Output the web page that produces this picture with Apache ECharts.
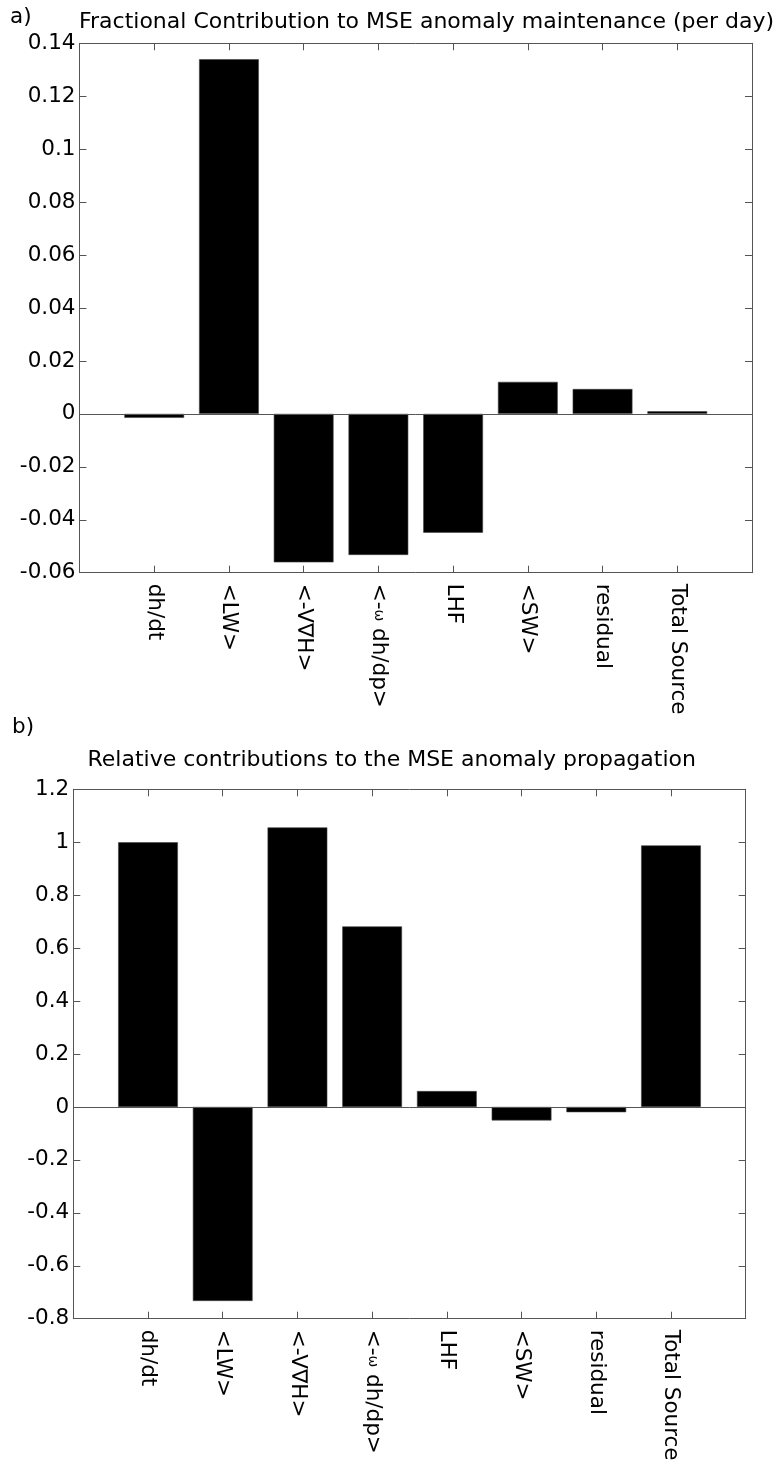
<!DOCTYPE html>
<html>
<head>
<meta charset="utf-8">
<script src="https://cdn.jsdelivr.net/npm/echarts@6/dist/echarts.min.js"></script>
<style>
  html, body { margin: 0; padding: 0; background: #fff; }
  #chart { width: 782px; height: 1462px; }
</style>
</head>
<body>
<div id="chart"></div>
<script>
// Budget terms shown along the x axis of both panels
const categories = ['dh/dt', '<LW>', '<-V\u2207H>', '<-\u03c9 dh/dp>', 'LHF', '<SW>', 'residual', 'Total Source'];

// a) fractional contribution to MSE anomaly maintenance (per day)
const maintenance = [-0.0015, 0.134, -0.0561, -0.0533, -0.0449, 0.0121, 0.0094, 0.001];
// b) relative contribution to MSE anomaly propagation
const propagation = [1.0, -0.733, 1.056, 0.682, 0.06, -0.051, -0.02, 0.988];

// y-axis ranges: [min, max, step]
const maintenanceRange = [-0.06, 0.14, 0.02];
const propagationRange = [-0.8, 1.2, 0.2];

// bars sit at x = 1..8 on a 0..9 axis
const tickPositions = categories.map((_, i) => i + 1);

const FONT = 'DejaVu Sans';
const AXIS = '#555';
const LABEL_SIZE = 21.5;
const TITLE_SIZE = 22;

const grids = [
  { left: 79.5, top: 43.3, width: 672.5, height: 529.4 },
  { left: 73.3, top: 789.3, width: 672.4, height: 529.4 }
];

function xLabel(v) {
  const name = categories[v - 1];
  if (name === undefined) return '';
  if (name.indexOf('\u03c9') >= 0) {
    const parts = name.split('\u03c9');
    return '{t|' + parts[0] + '}{w|\u03c9}{t|' + parts[1] + '}';
  }
  return '{t|' + name + '}';
}

const xAxes = [], yAxes = [], series = [];
[maintenance, propagation].forEach((values, g) => {
  const range = g === 0 ? maintenanceRange : propagationRange;
  const common = {
    gridIndex: g, type: 'value', min: 0, max: 9, interval: 1,
    axisLine: { show: true, onZero: false, lineStyle: { color: AXIS, width: 1 } },
    axisTick: { show: true, inside: true, length: 7, customValues: tickPositions, lineStyle: { color: AXIS } },
    splitLine: { show: false }
  };
  xAxes.push(Object.assign({}, common, {
    position: 'bottom',
    axisLabel: {
      show: true, rotate: -90, margin: 11, customValues: tickPositions,
      formatter: xLabel,
      rich: {
        t: { fontFamily: FONT, fontSize: LABEL_SIZE, color: '#000' },
        w: { fontFamily: FONT, fontSize: 14, color: '#000' }
      }
    }
  }));
  xAxes.push(Object.assign({}, common, { position: 'top', axisLabel: { show: false } }));

  const yCommon = {
    gridIndex: g, type: 'value', min: range[0], max: range[1], interval: range[2],
    axisLine: { show: true, onZero: false, lineStyle: { color: AXIS, width: 1 } },
    axisTick: { show: true, inside: true, length: 7, lineStyle: { color: AXIS } },
    splitLine: { show: false }
  };
  yAxes.push(Object.assign({}, yCommon, {
    position: 'left',
    axisLabel: { show: true, margin: 4, fontFamily: FONT, fontSize: LABEL_SIZE, color: '#000' }
  }));
  yAxes.push(Object.assign({}, yCommon, { position: 'right', axisLabel: { show: false } }));

  const barWidth = 0.8 * grids[g].width / 9;
  series.push({
    type: 'bar',
    xAxisIndex: g * 2,
    yAxisIndex: g * 2,
    barWidth: barWidth,
    data: values.map((v, i) => [tickPositions[i], v]),
    itemStyle: { color: '#000', borderColor: '#444', borderWidth: 0.6 },
    animation: false,
    markLine: {
      silent: true, symbol: 'none', animation: false,
      label: { show: false },
      lineStyle: { color: AXIS, width: 1, type: 'solid' },
      data: [{ yAxis: 0 }]
    }
  });
});

const textStyle = { fontFamily: FONT, fontSize: TITLE_SIZE, fontWeight: 'normal', color: '#000' };
const chart = echarts.init(document.getElementById('chart'), null, { renderer: 'canvas' });
chart.setOption({
  backgroundColor: '#fff',
  animation: false,
  grid: grids.map(r => Object.assign({ outerBoundsMode: 'none', containLabel: false }, r)),
  xAxis: xAxes,
  yAxis: yAxes,
  title: [
    { text: 'Fractional Contribution to MSE anomaly maintenance (per day)', left: 79, top: 11, padding: 0, textStyle },
    { text: 'Relative contributions to the MSE anomaly propagation', left: 87.5, top: 749, padding: 0, textStyle },
    { text: 'a)', left: 10, top: 6, padding: 0, textStyle: Object.assign({}, textStyle, { fontSize: LABEL_SIZE }) },
    { text: 'b)', left: 12, top: 716, padding: 0, textStyle: Object.assign({}, textStyle, { fontSize: LABEL_SIZE }) }
  ],
  series: series
});
</script>
</body>
</html>
